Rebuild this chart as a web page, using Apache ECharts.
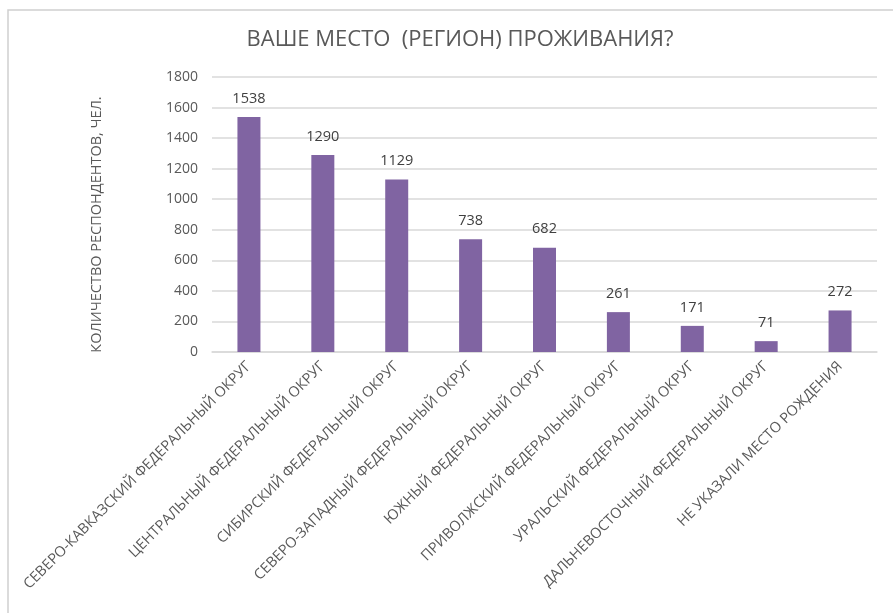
<!DOCTYPE html>
<html>
<head>
<meta charset="utf-8">
<script src="https://cdn.jsdelivr.net/npm/echarts@6/dist/echarts.min.js"></script>
<style>
html, body { margin: 0; padding: 0; background: #fff; }
#main { width: 893px; height: 613px; }
</style>
</head>
<body>
<div id="main"></div>
<script>
var regions = [
	'СЕВЕРО-КАВКАЗСКИЙ ФЕДЕРАЛЬНЫЙ ОКРУГ',
	'ЦЕНТРАЛЬНЫЙ ФЕДЕРАЛЬНЫЙ ОКРУГ',
	'СИБИРСКИЙ ФЕДЕРАЛЬНЫЙ ОКРУГ',
	'СЕВЕРО-ЗАПАДНЫЙ ФЕДЕРАЛЬНЫЙ ОКРУГ',
	'ЮЖНЫЙ ФЕДЕРАЛЬНЫЙ ОКРУГ',
	'ПРИВОЛЖСКИЙ ФЕДЕРАЛЬНЫЙ ОКРУГ',
	'УРАЛЬСКИЙ ФЕДЕРАЛЬНЫЙ ОКРУГ',
	'ДАЛЬНЕВОСТОЧНЫЙ ФЕДЕРАЛЬНЫЙ ОКРУГ',
	'НЕ УКАЗАЛИ МЕСТО РОЖДЕНИЯ'
];
var respondents = [1538, 1290, 1129, 738, 682, 261, 171, 71, 272];

var myChart = echarts.init(document.getElementById('main'));
var font = 'Open Sans';

var option = {
	animation: false,
	title: {
		text: 'ВАШЕ МЕСТО  (РЕГИОН) ПРОЖИВАНИЯ?',
		left: 455,
		textAlign: 'center',
		top: 24,
		textStyle: {
			fontFamily: font,
			fontSize: 22,
			fontWeight: 'normal',
			color: '#595959'
		}
	},
	graphic: [{
		type: 'rect',
		shape: { x: 8, y: 10, width: 900, height: 620 },
		style: { fill: 'none', stroke: '#d0d0d0', lineWidth: 1.5 },
		silent: true
	}],
	grid: {
		left: 212,
		right: 16,
		top: 77,
		bottom: 261
	},
	xAxis: {
		type: 'category',
		data: regions,
		axisLine: { lineStyle: { color: '#d9d9d9', width: 1.5 } },
		axisTick: { show: false },
		axisLabel: {
			interval: 0,
			rotate: 45,
			margin: 12,
			fontFamily: font,
			fontSize: 14.5,
			color: '#595959'
		}
	},
	yAxis: {
		type: 'value',
		min: 0,
		max: 1800,
		interval: 200,
		name: 'КОЛИЧЕСТВО РЕСПОНДЕНТОВ, ЧЕЛ.',
		nameLocation: 'middle',
		nameGap: 108,
		nameRotate: 90,
		nameTextStyle: {
			fontFamily: font,
			fontSize: 14.5,
			color: '#595959',
			padding: [0, 20, 0, 0]
		},
		axisLine: { show: false },
		axisTick: { show: false },
		axisLabel: {
			margin: 14,
			fontFamily: font,
			fontSize: 14,
			color: '#595959',
			formatter: function (v) { return String(v); }
		},
		splitLine: { lineStyle: { color: '#d9d9d9', width: 1.5 } }
	},
	series: [{
		type: 'bar',
		data: respondents,
		barWidth: 23,
		itemStyle: { color: '#8064a2' },
		label: {
			show: true,
			position: 'top',
			distance: 11,
			fontFamily: font,
			fontSize: 14.5,
			color: '#404040'
		}
	}]
};
myChart.setOption(option, true);
</script>
</body>
</html>
